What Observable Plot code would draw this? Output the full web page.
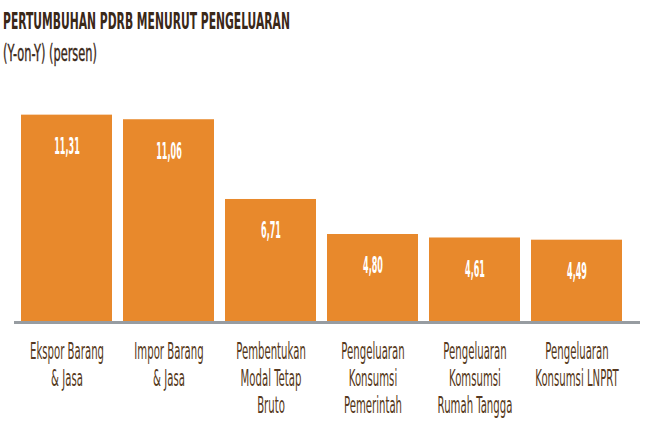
<!DOCTYPE html>
<html>
<head>
<meta charset="utf-8">
<script src="https://cdn.jsdelivr.net/npm/d3@7"></script>
<script src="https://cdn.jsdelivr.net/npm/@observablehq/plot@0.6"></script>
<style>
  html, body { margin: 0; padding: 0; background: #ffffff; }
  body { width: 650px; height: 433px; overflow: hidden; font-family: "DejaVu Sans Condensed", "DejaVu Sans", sans-serif; }
  #head { height: 70px; position: relative; }
  #title { position: absolute; left: 3px; top: 10px; font-size: 23px; line-height: 1; font-weight: bold; color: #3a2818; transform: scaleX(0.52); transform-origin: 0 0; white-space: nowrap; }
  #subtitle { position: absolute; left: 3px; top: 42px; font-size: 23px; line-height: 1; color: #3a2818; -webkit-text-stroke: 0.4px #3a2818; transform: scaleX(0.55); transform-origin: 0 0; white-space: nowrap; }
</style>
</head>
<body>
<div id="head">
  <div id="title">PERTUMBUHAN PDRB MENURUT PENGELUARAN</div>
  <div id="subtitle">(Y-on-Y) (persen)</div>
</div>
<div id="chart"></div>
<script>
const categories = [
  "Ekspor Barang & Jasa",
  "Impor Barang & Jasa",
  "Pembentukan Modal Tetap Bruto",
  "Pengeluaran Konsumsi Pemerintah",
  "Pengeluaran Komsumsi Rumah Tangga",
  "Pengeluaran Konsumsi LNPRT"
];
const tickLabels = [
  "Ekspor Barang\n& Jasa",
  "Impor Barang\n& Jasa",
  "Pembentukan\nModal Tetap\nBruto",
  "Pengeluaran\nKonsumsi\nPemerintah",
  "Pengeluaran\nKomsumsi\nRumah Tangga",
  "Pengeluaran\nKonsumsi LNPRT"
];
const values = [11.31, 11.06, 6.71, 4.80, 4.61, 4.49];

const data = categories.map((c, i) => ({category: c, value: values[i]}));
const labelOf = new Map(categories.map((c, i) => [c, tickLabels[i]]));
const fmt = v => v.toFixed(2).replace(".", ",");

const chart = Plot.plot({
  width: 650,
  height: 363,
  marginLeft: 21,
  marginRight: 28,
  marginTop: 32,
  marginBottom: 111,
  style: {fontFamily: '"DejaVu Sans Condensed", "DejaVu Sans", sans-serif', background: "#ffffff"},
  x: {domain: categories, padding: 0.11, paddingOuter: 0},
  y: {domain: [0, 12], axis: null},
  marks: [
    Plot.barY(data, {x: "category", y: "value", fill: "#e8892c"}),
    Plot.text(data, {x: "category", y: "value", text: d => fmt(d.value), dy: 31.5, fill: "#ffffff", fontSize: 23, fontWeight: "bold"}),
    Plot.ruleY([0], {stroke: "#979ca1", strokeWidth: 3, insetLeft: -7, insetRight: -18}),
    Plot.axisX({
      tickSize: 0,
      tickPadding: 17,
      tickFormat: c => labelOf.get(c),
      fontSize: 23,
      lineHeight: 1.18,
      fill: "#563920",
      stroke: "#563920",
      strokeWidth: 0.7,
      label: null
    })
  ]
});
// condense the text horizontally, as in the reference's narrow typeface
chart.querySelectorAll('g[aria-label="text"] text').forEach(t => {
  t.setAttribute("transform", (t.getAttribute("transform") || "") + " scale(0.39,1)");
});
chart.querySelectorAll('g[aria-label="x-axis tick label"] text').forEach(t => {
  t.setAttribute("transform", (t.getAttribute("transform") || "") + " scale(0.49,1)");
});
document.getElementById("chart").appendChild(chart);
</script>
</body>
</html>
